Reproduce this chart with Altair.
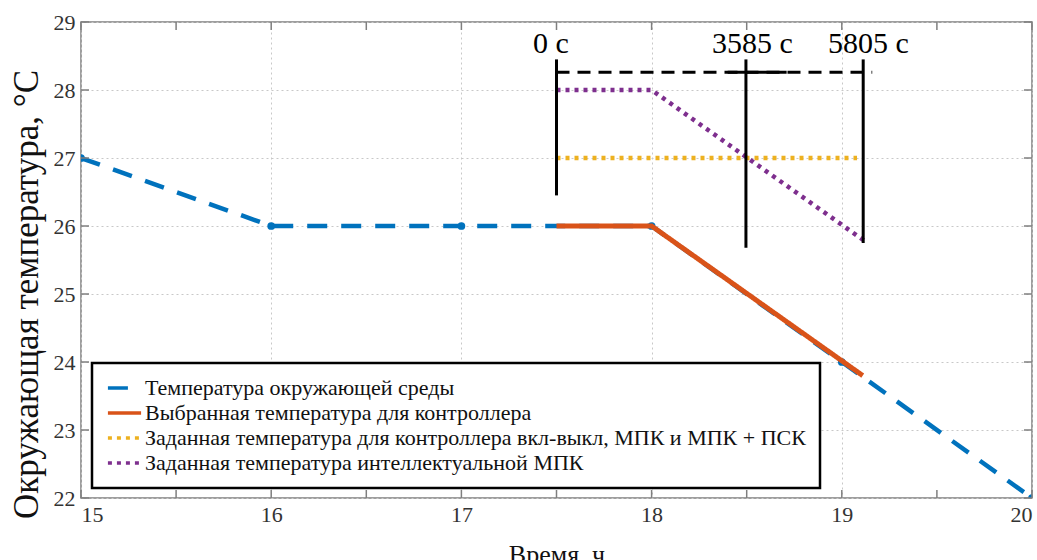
import altair as alt
import pandas as pd

# ---------------- data ----------------
series_names = [
    "Температура окружающей среды",
    "Выбранная температура для контроллера",
    "Заданная температура для контроллера вкл-выкл, МПК и МПК + ПСК",
    "Заданная температура интеллектуальной МПК",
]
series_colors = ["#0072BD", "#D95319", "#EDB120", "#7E2F8E"]
series_dashes = [[20, 14], [1, 0], [4, 5], [4, 5]]

amb_x = [15, 16, 17, 18, 19, 20]
amb_y = [27, 26, 26, 26, 24, 22]
sel_x = [17.5, 18, 19.11]
sel_y = [26, 26, 23.8]
onoff_x = [17.5, 19.08]
onoff_y = [27, 27]
imp_x = [17.5, 18, 19.12]
imp_y = [28, 28, 25.78]

marker_x = [15, 16, 17, 18, 19, 20]
marker_y = [27, 26, 26, 26, 24, 22]

event_x = [17.5, 18.496, 19.1125]
event_top = [28.45, 28.45, 28.45]
event_bottom = [26.45, 25.68, 25.75]
event_label = ["0 с", "3585 с", "5805 с"]
event_label_x = [17.47, 18.53, 19.14]
event_label_y = [28.55, 28.55, 28.55]

horizon_x = [17.5]
horizon_x2 = [19.16]
horizon_y = [28.26]
solid_x = [18.40]
solid_x2 = [18.71]

xticks = [15, 15.5, 16, 16.5, 17, 17.5, 18, 18.5, 19, 19.5, 20]
yticks = [22, 23, 24, 25, 26, 27, 28, 29]

W, H = 951, 476
SERIF = "Liberation Serif, 'Times New Roman', 'DejaVu Serif', serif"

# ---------------- tables ----------------
rows = []
for name, xs, ys in zip(series_names, [amb_x, sel_x, onoff_x, imp_x], [amb_y, sel_y, onoff_y, imp_y]):
    for xv, yv in zip(xs, ys):
        rows.append({"s": name, "x": xv, "y": yv})
lines_df = pd.DataFrame(rows)
markers_df = pd.DataFrame({"x": marker_x, "y": marker_y})
events_df = pd.DataFrame({"x": event_x, "top": event_top, "bottom": event_bottom})
labels_df = pd.DataFrame({"x": event_label_x, "y": event_label_y, "t": event_label})
horizon_df = pd.DataFrame({"x": horizon_x, "x2": horizon_x2, "y": horizon_y})
solid_df = pd.DataFrame({"x": solid_x, "x2": solid_x2, "y": horizon_y})
xt_df = pd.DataFrame({"x": xticks})
yt_df = pd.DataFrame({"y": yticks})

xscale = alt.Scale(domain=[15, 20], nice=False, zero=False)
yscale = alt.Scale(domain=[22, 29], nice=False, zero=False)

x_axis = alt.Axis(
    values=xticks, format="d",
    labelExpr="datum.value % 1 == 0 ? datum.label : ''",
    ticks=False, domain=False, grid=True, labelOverlap=False,
    gridDash=[2, 3], gridColor="#c8c8c8", gridWidth=1,
    labelFont=SERIF, labelFontSize=22, labelColor="#333333", labelPadding=6,
    title="Время, ч", titleFont=SERIF, titleFontSize=26, titleFontWeight="normal",
    titleColor="#111111", titlePadding=16,
)
y_axis = alt.Axis(
    values=yticks, format="d",
    ticks=False, domain=False, grid=True, labelOverlap=False,
    gridDash=[2, 3], gridColor="#c8c8c8", gridWidth=1,
    labelFont=SERIF, labelFontSize=22, labelColor="#333333", labelPadding=6,
    title="Окружающая температура, °С", titleFont=SERIF, titleFontSize=35,
    titleFontWeight="normal", titleColor="#111111",
    titleX=-55, titleY=272, titleAngle=270, titleBaseline="middle", titleAlign="center",
)

color_enc = alt.Color(
    "s:N",
    scale=alt.Scale(domain=series_names, range=series_colors),
    legend=alt.Legend(
        title=None, orient="none", legendX=11, legendY=341,
        symbolType="stroke", symbolSize=1100, symbolStrokeWidth=3.5,
        labelFont=SERIF, labelFontSize=22, labelColor="#111111", labelLimit=900,
        labelOffset=2, rowPadding=3, padding=14, clipHeight=22,
        fillColor="white", strokeColor="black",
    ),
)
dash_enc = alt.StrokeDash(
    "s:N",
    scale=alt.Scale(domain=series_names, range=series_dashes),
    legend=None,
)

base = alt.Chart(lines_df)

def series_layer(i, width):
    return base.transform_filter(alt.datum.s == series_names[i]).mark_line(
        strokeWidth=width, clip=True
    ).encode(
        x=alt.X("x:Q", scale=xscale, axis=x_axis),
        y=alt.Y("y:Q", scale=yscale, axis=y_axis),
        color=color_enc,
        strokeDash=dash_enc,
    )

amb = series_layer(0, 4.5)
sel = series_layer(1, 5)
onoff = series_layer(2, 4.5)
imp = series_layer(3, 4.5)

markers = alt.Chart(markers_df).mark_circle(size=60, color="#0072BD", opacity=1, clip=True).encode(
    x=alt.X("x:Q", scale=xscale), y=alt.Y("y:Q", scale=yscale)
)

ev = alt.Chart(events_df).mark_rule(color="black", strokeWidth=3).encode(
    x=alt.X("x:Q", scale=xscale), y=alt.Y("top:Q", scale=yscale), y2="bottom:Q"
)
hz = alt.Chart(horizon_df).mark_rule(color="black", strokeWidth=3, strokeDash=[13, 8]).encode(
    x=alt.X("x:Q", scale=xscale), x2="x2:Q", y=alt.Y("y:Q", scale=yscale)
)
hz_solid = alt.Chart(solid_df).mark_rule(color="black", strokeWidth=3).encode(
    x=alt.X("x:Q", scale=xscale), x2="x2:Q", y=alt.Y("y:Q", scale=yscale)
)
txt = alt.Chart(labels_df).mark_text(
    font=SERIF, fontSize=30, color="black", align="center", baseline="alphabetic"
).encode(
    x=alt.X("x:Q", scale=xscale), y=alt.Y("y:Q", scale=yscale), text="t:N"
)

tick_color = "#7f7f7f"
xt_bottom = alt.Chart(xt_df).mark_rule(color=tick_color, strokeWidth=1.5).encode(
    x=alt.X("x:Q", scale=xscale), y=alt.value(H), y2=alt.value(H - 8)
)
xt_top = alt.Chart(xt_df).mark_rule(color=tick_color, strokeWidth=1.5).encode(
    x=alt.X("x:Q", scale=xscale), y=alt.value(0), y2=alt.value(8)
)
yt_left = alt.Chart(yt_df).mark_rule(color=tick_color, strokeWidth=1.5).encode(
    y=alt.Y("y:Q", scale=yscale), x=alt.value(0), x2=alt.value(8)
)
yt_right = alt.Chart(yt_df).mark_rule(color=tick_color, strokeWidth=1.5).encode(
    y=alt.Y("y:Q", scale=yscale), x=alt.value(W), x2=alt.value(W - 8)
)

chart = alt.layer(
    amb, markers, sel, onoff, imp, hz, hz_solid, ev, txt,
    xt_bottom, xt_top, yt_left, yt_right,
).properties(
    width=W, height=H,
    autosize=alt.AutoSizeParams(type="none"),
    padding={"left": 81, "top": 22, "right": 5, "bottom": 62},
    background="white",
).configure_view(
    stroke="#7f7f7f", strokeWidth=1.5
).configure_legend(
    strokeWidth=2.5
)

chart.save("out.html", embed_options={"renderer": "svg", "actions": False})
